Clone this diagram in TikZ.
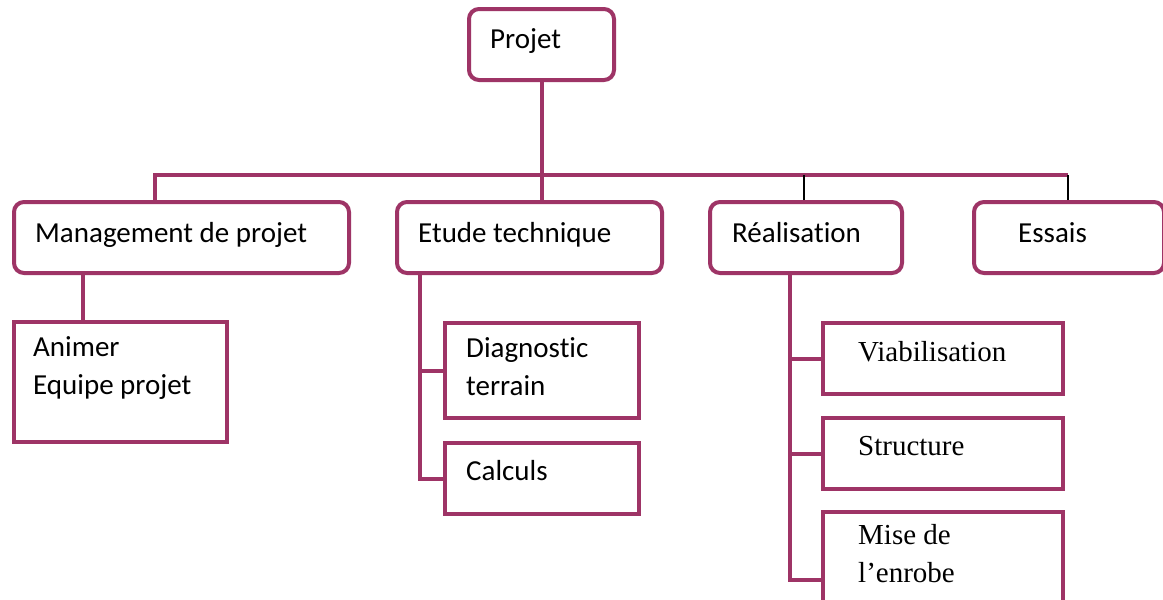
\documentclass[tikz,border=0pt]{standalone}
\usepackage{fontspec}
\setmainfont{Carlito}[Ligatures=NoCommon]
\newfontfamily\timesfont{Liberation Serif}
\definecolor{plum}{RGB}{158,52,102}
\tikzset{
  rbox/.style={draw=plum, line width=4pt, rounded corners=10pt, inner sep=0pt, anchor=north west},
  sbox/.style={draw=plum, line width=4pt, inner sep=0pt, anchor=north west},
  txt/.style={inner sep=0pt, anchor=base west, align=left, font=\fontsize{29}{38}\selectfont},
  stxt/.style={txt, font=\timesfont\fontsize{29}{37.5}\selectfont},
  link/.style={draw=plum, line width=4pt},
  tick/.style={draw=black, line width=2pt}
}
\begin{document}
\begin{tikzpicture}[x=1pt, y=-1pt]
\clip (0,0) rectangle (1163,600);
\fill[white] (0,0) rectangle (1163,600);

% top level
\node[rbox, minimum width=145pt, minimum height=71pt] (proj) at (467,7) {};
\node[txt] (projt) at (490,48) {Projet};

% second level
\node[rbox, minimum width=335pt, minimum height=71pt] (mgmt) at (12,200) {};
\node[rbox, minimum width=265pt, minimum height=71pt] (etude) at (395,200) {};
\node[rbox, minimum width=192pt, minimum height=71pt] (real) at (708,200) {};
\node[rbox, minimum width=190pt, minimum height=71pt] (essai) at (972,200) {};
\node[txt] (mgmtt) at (35,242) {Management de projet};
\node[txt] (etudet) at (418,242) {Etude technique};
\node[txt] (realt) at (732,242) {Réalisation};
\node[txt] (essait) at (1018,242) {Essais};

% third level (multi-line labels sit on the baseline of their last line)
\node[sbox, minimum width=213pt, minimum height=120pt] (anim) at (12,320) {};
\node[txt] (animt) at (33,394) {Animer\\Equipe projet};

\node[sbox, minimum width=194pt, minimum height=95pt] (diag) at (443,321) {};
\node[sbox, minimum width=194pt, minimum height=71pt] (calc) at (443,441) {};
\node[txt] (diagt) at (466,395) {Diagnostic\\terrain};
\node[txt] (calct) at (466,480) {Calculs};

\node[sbox, minimum width=240pt, minimum height=71pt] (viab) at (821,321) {};
\node[sbox, minimum width=240pt, minimum height=71pt] (struc) at (821,416) {};
\node[sbox, minimum width=240pt, minimum height=110pt] (mise) at (821,510) {};
\node[stxt] (viabt) at (858,361) {Viabilisation};
\node[stxt] (struct) at (858,455) {Structure};
\node[stxt] (miset) at (858,582) {Mise de\\l’enrobe};

% bus under the project box
\coordinate (busL) at (155,175);
\coordinate (busR) at (1068,175);
\draw[link] (proj.south) -- (proj.south |- etude.north);
\draw[link] (mgmt.north -| busL) -- (busL) -- (busR);
\draw[tick] (real.north -| 804,0) -- (804,175);
\draw[tick] (essai.north -| busR) -- (busR);

% branches
\coordinate (mgmtdrop) at (83,0);
\draw[link] (mgmt.south -| mgmtdrop) -- (anim.north -| mgmtdrop);

\coordinate (etudeline) at (420,0);
\draw[link] (etude.south -| etudeline) |- (calc.west);
\draw[link] (etudeline |- diag.west) -- (diag.west);

\coordinate (realline) at (790,0);
\draw[link] (real.south -| realline) |- (mise.west |- 0,580);
\draw[link] (realline |- viab.west) -- (viab.west);
\draw[link] (realline |- struc.west) -- (struc.west);
\end{tikzpicture}
\end{document}
